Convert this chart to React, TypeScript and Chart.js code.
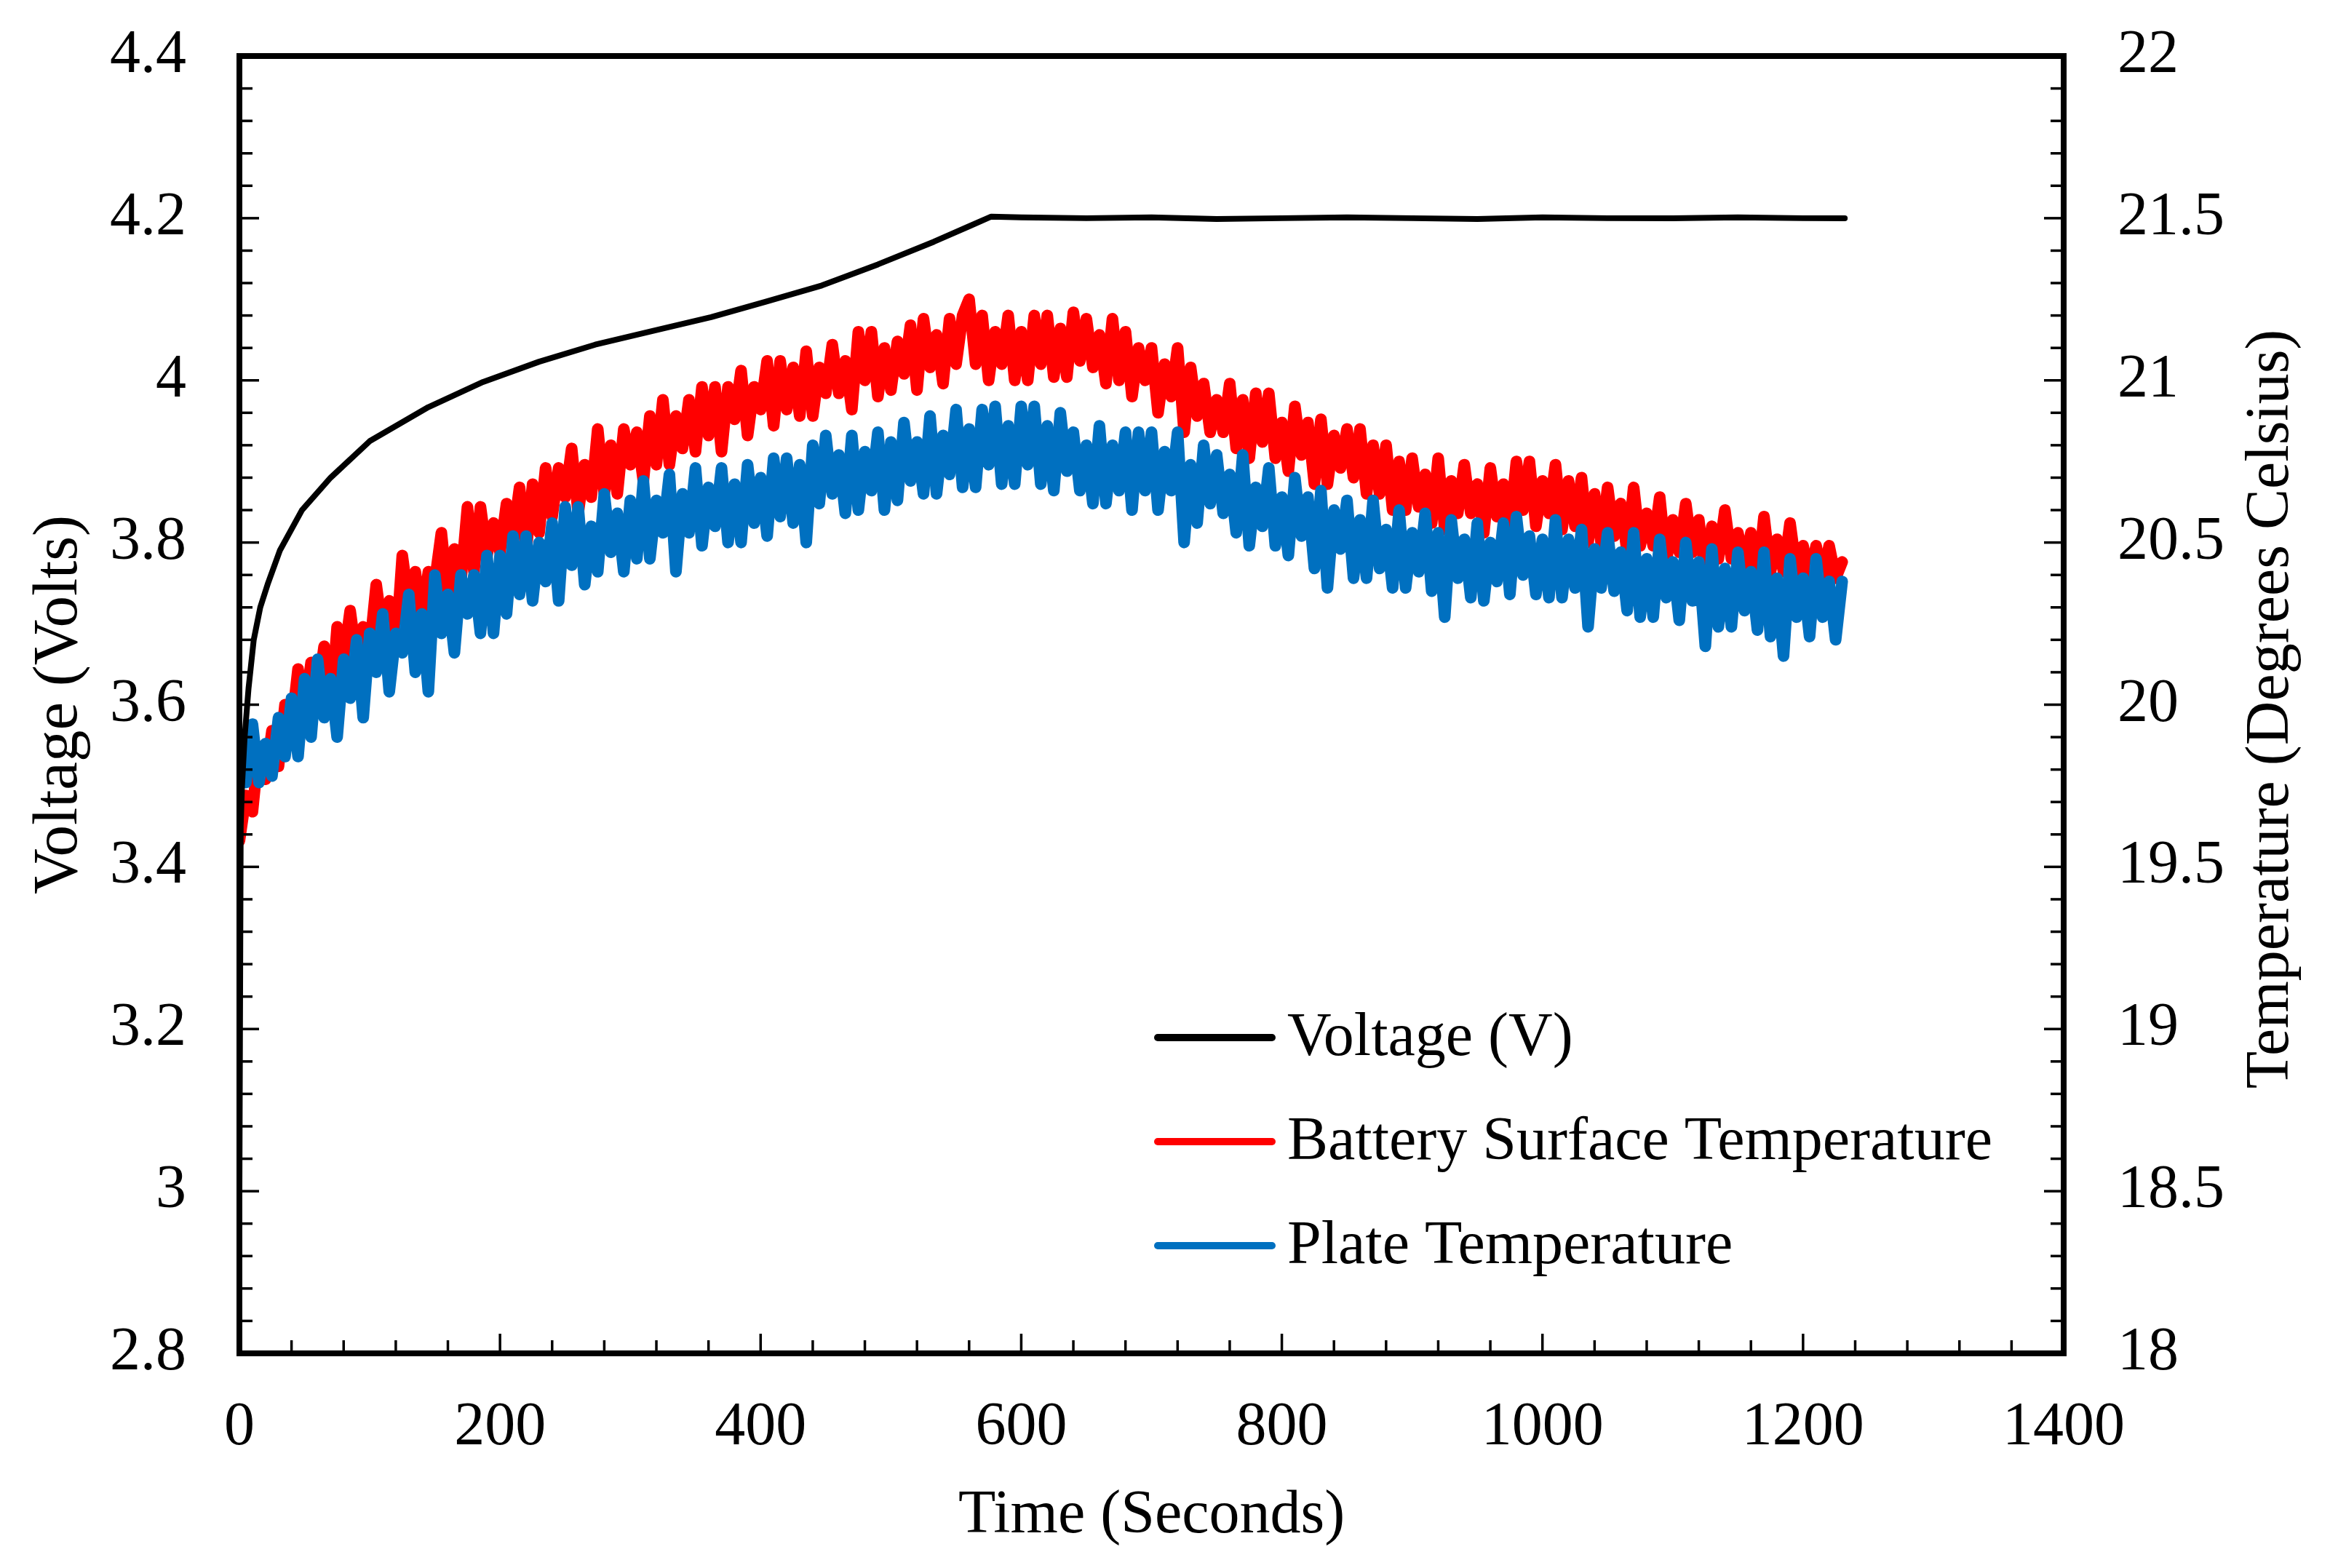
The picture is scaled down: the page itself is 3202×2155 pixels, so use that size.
import React, { useEffect, useRef } from "react";
import { Chart, registerables } from "chart.js";

Chart.register(...registerables);

const FONT = "'Liberation Serif', 'Times New Roman', Times, serif";
const FONT_SIZE = 84;

// Axis tick labels
const timeTicks = [0, 200, 400, 600, 800, 1000, 1200, 1400];
const voltTicks = [2.8, 3, 3.2, 3.4, 3.6, 3.8, 4, 4.2, 4.4];
const tempTicks = [18, 18.5, 19, 19.5, 20, 20.5, 21, 21.5, 22];

// Series labels / colours
const seriesLabels = ["Voltage (V)", "Battery Surface Temperature", "Plate Temperature"];
const seriesColors = ["#000000", "#FF0000", "#0070C0"];

// Voltage (left axis): time (s) and volts
const voltTime = [
  0, 1, 2, 4, 7, 11, 16, 22, 31, 48,
  70, 100, 145, 187, 230, 273, 320, 362, 404, 447,
  490, 533, 560, 577, 600, 650, 700, 750, 800, 850,
  900, 950, 1000, 1050, 1100, 1150, 1200, 1232,
];
const voltValues = [
  3.0, 3.45, 3.5, 3.56, 3.62, 3.68, 3.72, 3.75, 3.79, 3.84,
  3.88, 3.925, 3.967, 3.998, 4.023, 4.044, 4.062, 4.078, 4.097, 4.117,
  4.143, 4.171, 4.19, 4.202, 4.201, 4.2, 4.201, 4.199, 4.2, 4.201,
  4.2, 4.199, 4.201, 4.2, 4.2, 4.201, 4.2, 4.2,
];

// Temperatures (right axis), sampled every 5 s from t = 0 s
const TEMP_STEP = 5;
const surfaceTemp = [
  19.58, 19.72, 19.67, 19.87, 19.77, 19.92, 19.81, 20.00, 19.93, 20.11,
  19.98, 20.13, 20.03, 20.18, 19.98, 20.24, 20.14, 20.29, 20.14, 20.24,
  20.17, 20.37, 20.22, 20.32, 20.17, 20.46, 20.31, 20.41, 20.26, 20.41,
  20.38, 20.53, 20.33, 20.48, 20.38, 20.61, 20.41, 20.61, 20.46, 20.56,
  20.47, 20.62, 20.52, 20.67, 20.47, 20.68, 20.53, 20.73, 20.58, 20.73,
  20.64, 20.79, 20.59, 20.74, 20.64, 20.85, 20.65, 20.80, 20.65, 20.85,
  20.74, 20.84, 20.69, 20.89, 20.74, 20.94, 20.74, 20.89, 20.79, 20.94,
  20.78, 20.98, 20.83, 20.98, 20.78, 20.98, 20.88, 21.03, 20.83, 20.98,
  20.91, 21.06, 20.86, 21.06, 20.91, 21.04, 20.89, 21.09, 20.89, 21.04,
  20.96, 21.11, 20.96, 21.06, 20.91, 21.15, 21.00, 21.15, 20.95, 21.10,
  20.97, 21.12, 21.02, 21.17, 20.97, 21.19, 21.04, 21.14, 20.99, 21.19,
  21.05, 21.20, 21.25, 21.05, 21.20, 21.00, 21.15, 21.05, 21.20, 21.00,
  21.15, 21.00, 21.20, 21.05, 21.20, 21.01, 21.16, 21.01, 21.21, 21.06,
  21.19, 21.04, 21.14, 20.99, 21.19, 21.00, 21.15, 20.95, 21.10, 21.00,
  21.10, 20.90, 21.05, 20.95, 21.10, 20.84, 21.04, 20.89, 20.99, 20.84,
  20.94, 20.84, 20.99, 20.79, 20.94, 20.76, 20.96, 20.81, 20.96, 20.76,
  20.87, 20.72, 20.92, 20.77, 20.87, 20.68, 20.88, 20.68, 20.83, 20.73,
  20.85, 20.70, 20.85, 20.65, 20.80, 20.65, 20.80, 20.60, 20.75, 20.60,
  20.76, 20.61, 20.71, 20.56, 20.76, 20.54, 20.69, 20.59, 20.74, 20.59,
  20.68, 20.53, 20.73, 20.58, 20.68, 20.55, 20.75, 20.60, 20.75, 20.55,
  20.69, 20.59, 20.74, 20.54, 20.69, 20.55, 20.70, 20.50, 20.65, 20.50,
  20.67, 20.52, 20.62, 20.47, 20.67, 20.49, 20.59, 20.49, 20.64, 20.44,
  20.57, 20.47, 20.62, 20.47, 20.57, 20.40, 20.55, 20.45, 20.60, 20.45,
  20.53, 20.43, 20.53, 20.38, 20.58, 20.41, 20.51, 20.41, 20.56, 20.41,
  20.49, 20.39, 20.49, 20.39, 20.49, 20.39, 20.44,
];
const plateTemp = [
  19.88, 19.76, 19.94, 19.76, 19.88, 19.78, 19.96, 19.84, 20.02, 19.84,
  20.08, 19.90, 20.14, 19.96, 20.08, 19.90, 20.14, 20.02, 20.20, 19.96,
  20.22, 20.10, 20.28, 20.04, 20.22, 20.16, 20.34, 20.10, 20.28, 20.04,
  20.40, 20.22, 20.34, 20.16, 20.40, 20.28, 20.40, 20.22, 20.46, 20.22,
  20.46, 20.28, 20.52, 20.34, 20.52, 20.32, 20.50, 20.38, 20.56, 20.32,
  20.61, 20.43, 20.61, 20.37, 20.55, 20.41, 20.65, 20.47, 20.59, 20.41,
  20.63, 20.45, 20.69, 20.45, 20.63, 20.53, 20.71, 20.41, 20.65, 20.53,
  20.73, 20.49, 20.67, 20.55, 20.73, 20.50, 20.68, 20.50, 20.74, 20.56,
  20.70, 20.52, 20.76, 20.58, 20.76, 20.56, 20.74, 20.50, 20.80, 20.62,
  20.83, 20.65, 20.77, 20.59, 20.83, 20.60, 20.78, 20.66, 20.84, 20.60,
  20.81, 20.63, 20.87, 20.69, 20.81, 20.65, 20.89, 20.65, 20.83, 20.71,
  20.91, 20.67, 20.85, 20.67, 20.91, 20.74, 20.92, 20.68, 20.86, 20.68,
  20.92, 20.74, 20.92, 20.68, 20.86, 20.66, 20.90, 20.72, 20.84, 20.66,
  20.80, 20.62, 20.86, 20.62, 20.80, 20.66, 20.84, 20.60, 20.84, 20.66,
  20.84, 20.60, 20.78, 20.66, 20.84, 20.50, 20.74, 20.56, 20.80, 20.62,
  20.77, 20.59, 20.71, 20.53, 20.77, 20.49, 20.67, 20.55, 20.73, 20.49,
  20.64, 20.46, 20.70, 20.52, 20.64, 20.42, 20.66, 20.36, 20.60, 20.48,
  20.63, 20.39, 20.57, 20.39, 20.63, 20.42, 20.54, 20.36, 20.60, 20.36,
  20.53, 20.41, 20.59, 20.35, 20.53, 20.27, 20.57, 20.39, 20.51, 20.33,
  20.56, 20.32, 20.50, 20.38, 20.56, 20.34, 20.58, 20.40, 20.52, 20.34,
  20.51, 20.33, 20.57, 20.33, 20.51, 20.36, 20.54, 20.24, 20.48, 20.36,
  20.53, 20.35, 20.47, 20.29, 20.53, 20.27, 20.45, 20.27, 20.51, 20.33,
  20.44, 20.26, 20.50, 20.32, 20.44, 20.18, 20.48, 20.24, 20.42, 20.24,
  20.47, 20.29, 20.41, 20.23, 20.47, 20.21, 20.39, 20.15, 20.45, 20.27,
  20.39, 20.21, 20.45, 20.27, 20.38, 20.20, 20.38,
];

// Layout constants
const W = 3202;
const H = 2155;
const LEFT_AXIS_W = 329;
const RIGHT_AXIS_W = 366;
const BOTTOM_AXIS_H = 295;
const TOP_PAD = 77;

const fmt = (v: number) => String(Number(v.toFixed(2)));

const zeroPad = (s: any) => {
  s.paddingTop = 0;
  s.paddingBottom = 0;
  s.paddingLeft = 0;
  s.paddingRight = 0;
};

const frameTicksPlugin = {
  id: "frameTicks",
  afterDatasetsDraw(chart: any) {
    const { ctx, chartArea: a, scales } = chart;
    ctx.save();
    ctx.strokeStyle = "#000";
    ctx.lineCap = "butt";
    ctx.lineWidth = 3.5;
    const drawTicks = (scale: any, minor: number, edge: number, dir: number, horiz: boolean) => {
      const n = Math.round((scale.max - scale.min) / minor);
      for (let i = 0; i <= n; i++) {
        const v = scale.min + i * minor;
        const p = scale.getPixelForValue(v);
        const len = i % 5 === 0 ? 27 : 18;
        ctx.beginPath();
        if (horiz) {
          ctx.moveTo(p, edge);
          ctx.lineTo(p, edge + dir * len);
        } else {
          ctx.moveTo(edge, p);
          ctx.lineTo(edge + dir * len, p);
        }
        ctx.stroke();
      }
    };
    drawTicks(scales.x, 40, a.bottom, -1, true);
    drawTicks(scales.y, 0.04, a.left, 1, false);
    drawTicks(scales.y2, 0.1, a.right, -1, false);
    ctx.lineWidth = 8;
    ctx.strokeRect(a.left, a.top, a.right - a.left, a.bottom - a.top);
    ctx.restore();
  },
};

const rightTitlePlugin = {
  id: "rightTitle",
  afterDraw(chart: any) {
    const { ctx, chartArea: a, scales } = chart;
    ctx.save();
    ctx.fillStyle = "#000";
    ctx.font = `${FONT_SIZE}px ${FONT}`;
    ctx.textAlign = "center";
    ctx.textBaseline = "middle";
    ctx.translate(scales.y2.right - 80, (a.top + a.bottom) / 2 + 6);
    ctx.rotate(-Math.PI / 2);
    ctx.fillText("Temperature (Degrees Celsius)", 0, 0);
    ctx.restore();
  },
};

const plotLegendPlugin = {
  id: "plotLegend",
  afterDatasetsDraw(chart: any) {
    const { ctx, chartArea: a } = chart;
    const lx = a.left + 0.5014 * (a.right - a.left);
    const ly = a.top + 0.7566 * (a.bottom - a.top);
    ctx.save();
    chart.data.datasets.forEach((ds: any, i: number) => {
      const y = ly + i * 143;
      ctx.strokeStyle = ds.borderColor;
      ctx.lineWidth = 10;
      ctx.lineCap = "round";
      ctx.beginPath();
      ctx.moveTo(lx + 5, y);
      ctx.lineTo(lx + 162, y);
      ctx.stroke();
      ctx.fillStyle = "#000";
      ctx.font = `${FONT_SIZE}px ${FONT}`;
      ctx.textAlign = "left";
      ctx.textBaseline = "middle";
      ctx.fillText(ds.label, lx + 183, y + 2);
    });
    ctx.restore();
  },
};

export default function App() {
  const ref = useRef<HTMLCanvasElement | null>(null);

  useEffect(() => {
    if (!ref.current) return;
    const voltData = voltTime.map((t, i) => ({ x: t, y: voltValues[i] }));
    const surfData = surfaceTemp.map((v, i) => ({ x: i * TEMP_STEP, y: v }));
    const plateData = plateTemp.map((v, i) => ({ x: i * TEMP_STEP, y: v }));

    const tickFont = { family: FONT, size: FONT_SIZE };

    const chart = new Chart(ref.current, {
      type: "line",
      data: {
        datasets: [
          {
            label: seriesLabels[0],
            data: voltData,
            yAxisID: "y",
            borderColor: seriesColors[0],
            backgroundColor: seriesColors[0],
            borderWidth: 8,
            pointRadius: 0,
            tension: 0,
            order: 0,
            borderJoinStyle: "round",
            borderCapStyle: "round",
          },
          {
            label: seriesLabels[1],
            data: surfData,
            yAxisID: "y2",
            borderColor: seriesColors[1],
            backgroundColor: seriesColors[1],
            borderWidth: 16,
            pointRadius: 0,
            tension: 0,
            order: 2,
            borderJoinStyle: "round",
            borderCapStyle: "round",
          },
          {
            label: seriesLabels[2],
            data: plateData,
            yAxisID: "y2",
            borderColor: seriesColors[2],
            backgroundColor: seriesColors[2],
            borderWidth: 16,
            pointRadius: 0,
            tension: 0,
            order: 1,
            borderJoinStyle: "round",
            borderCapStyle: "round",
          },
        ],
      },
      options: {
        animation: false,
        responsive: false,
        devicePixelRatio: 1,
        layout: { padding: { top: TOP_PAD, left: 0, right: 0, bottom: 0 } },
        plugins: {
          legend: { display: false },
          tooltip: { enabled: false },
          title: { display: false },
        },
        scales: {
          x: {
            type: "linear",
            position: "bottom",
            min: 0,
            max: 1400,
            grid: { display: false, drawTicks: false },
            border: { display: false },
            afterBuildTicks: (s: any) => {
              s.ticks = timeTicks.map((v) => ({ value: v }));
            },
            afterFit: (s: any) => {
              s.height = BOTTOM_AXIS_H;
              zeroPad(s);
            },
            ticks: {
              autoSkip: false,
              maxRotation: 0,
              padding: 53,
              color: "#000",
              font: tickFont,
              callback: (v: any) => fmt(Number(v)),
            },
            title: {
              display: true,
              text: "Time (Seconds)",
              color: "#000",
              font: tickFont,
              padding: { top: 0, bottom: 21 },
            },
          },
          y: {
            type: "linear",
            position: "left",
            min: 2.8,
            max: 4.4,
            grid: { display: false, drawTicks: false },
            border: { display: false },
            afterBuildTicks: (s: any) => {
              s.ticks = voltTicks.map((v) => ({ value: v }));
            },
            afterFit: (s: any) => {
              s.width = LEFT_AXIS_W;
              zeroPad(s);
            },
            ticks: {
              autoSkip: false,
              padding: 73,
              color: "#000",
              font: tickFont,
              callback: (v: any) => fmt(Number(v)),
            },
            title: {
              display: true,
              text: "Voltage (Volts)",
              color: "#000",
              font: { family: FONT, size: 87 },
              padding: { top: 30, bottom: 0 },
            },
          },
          y2: {
            type: "linear",
            position: "right",
            min: 18,
            max: 22,
            grid: { display: false, drawTicks: false },
            border: { display: false },
            afterBuildTicks: (s: any) => {
              s.ticks = tempTicks.map((v) => ({ value: v }));
            },
            afterFit: (s: any) => {
              s.width = RIGHT_AXIS_W;
              zeroPad(s);
            },
            ticks: {
              autoSkip: false,
              padding: 74,
              color: "#000",
              font: tickFont,
              callback: (v: any) => fmt(Number(v)),
            },
            title: { display: false },
          },
        },
      } as any,
      plugins: [frameTicksPlugin, plotLegendPlugin, rightTitlePlugin],
    });

    return () => {
      chart.destroy();
    };
  }, []);

  return (
    <div
      style={{
        position: "absolute",
        left: 0,
        top: 0,
        width: W,
        height: H,
        background: "#ffffff",
      }}
    >
      <canvas ref={ref} width={W} height={H} style={{ display: "block", width: W, height: H }} />
    </div>
  );
}
